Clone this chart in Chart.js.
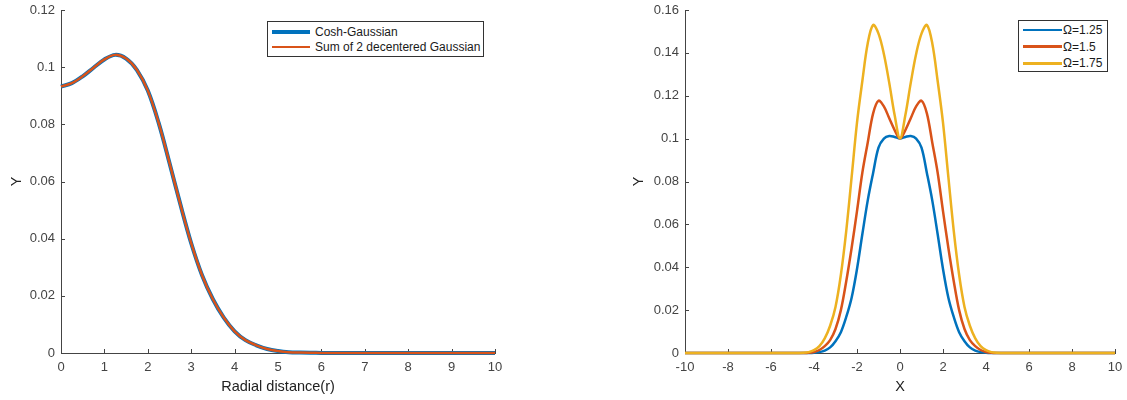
<!DOCTYPE html>
<html>
<head>
<meta charset="utf-8">
<script src="https://cdn.jsdelivr.net/npm/chart.js@4.4.1/dist/chart.umd.min.js"></script>
<style>
  body { margin: 0; background: #fff; width: 1127px; height: 400px; overflow: hidden; position: relative;
         font-family: "Liberation Sans", Arial, sans-serif; }
  #leftWrap { position: absolute; left: 0; top: 0; }
  #rightWrap { position: absolute; left: 560px; top: 0; }
  .legend { position: absolute; background: #fff; border: 1px solid #333; box-sizing: border-box; }
  .row { position: absolute; left: 0; right: 0; height: 16px; }
  .sw { position: absolute; }
  .lbl { position: absolute; top: 0; font-size: 12px; line-height: 16px; color: #1a1a1a; white-space: nowrap; }
</style>
</head>
<body>
<div id="leftWrap"><canvas id="left" width="560" height="400"></canvas></div>
<div id="rightWrap"><canvas id="right" width="567" height="400"></canvas></div>
<div class="legend" id="legLeft" style="left:267px;top:21px;width:217px;height:36px"></div>
<div class="legend" id="legRight" style="left:1018px;top:20px;width:90px;height:52px"></div>
<script>
// left panel: radial profile
const radial = [0, 0.25, 0.5, 0.75, 1, 1.25, 1.5, 1.75, 2, 2.25, 2.5, 2.75, 3, 3.25, 3.5, 3.75,
  4, 4.25, 4.5, 4.75, 5, 5.25, 5.5, 5.75, 6, 7, 8, 9, 10];
const coshGaussian = [0.0932, 0.0944, 0.0968, 0.0998, 0.1027, 0.1043, 0.1030, 0.0990, 0.0918, 0.0805,
  0.0665, 0.0520, 0.0384, 0.0272, 0.0188, 0.0124, 0.0076, 0.0045, 0.0027, 0.0014, 0.0007, 0.0003,
  0.00015, 0.00007, 0.00003, 0, 0, 0, 0];
const sumTwoGaussian = [0.0932, 0.0944, 0.0968, 0.0998, 0.1027, 0.1043, 0.1030, 0.0990, 0.0918, 0.0805,
  0.0665, 0.0520, 0.0384, 0.0272, 0.0188, 0.0124, 0.0076, 0.0045, 0.0027, 0.0014, 0.0007, 0.0003,
  0.00015, 0.00007, 0.00003, 0, 0, 0, 0];
const leftNames = ["Cosh-Gaussian", "Sum of 2 decentered Gaussian"];
const leftXTicks = [0, 1, 2, 3, 4, 5, 6, 7, 8, 9, 10];
const leftXLabels = ["0", "1", "2", "3", "4", "5", "6", "7", "8", "9", "10"];
const leftYTicks = [0, 0.02, 0.04, 0.06, 0.08, 0.1, 0.12];
const leftYLabels = ["0", "0.02", "0.04", "0.06", "0.08", "0.1", "0.12"];

// right panel: profiles for three omegas
const xPos = [-10, -8, -6, -5, -4.5, -4.25, -4, -3.75, -3.5, -3.25, -3, -2.75, -2.5, -2.25, -2, -1.75,
  -1.5, -1.25, -1, -0.75, -0.5, -0.25, 0, 0.25, 0.5, 0.75, 1, 1.25, 1.5, 1.75, 2, 2.25, 2.5, 2.75,
  3, 3.25, 3.5, 3.75, 4, 4.25, 4.5, 5, 6, 8, 10];
const omega125 = [0, 0, 0, 0, 0, 0, 0.0001, 0.0004, 0.0011, 0.0026, 0.0055, 0.0097, 0.0168, 0.0258,
  0.0392, 0.0555, 0.0712, 0.0840, 0.0958, 0.1000, 0.1012, 0.1008,
  0.1001,
  0.1008, 0.1012, 0.1000, 0.0958, 0.0840, 0.0712, 0.0555, 0.0392, 0.0258, 0.0168, 0.0097, 0.0055,
  0.0026, 0.0011, 0.0004, 0.0001, 0, 0, 0, 0, 0, 0];
const omega15 = [0, 0, 0, 0, 0, 0.0001, 0.0005, 0.0014, 0.0032, 0.0060, 0.0112, 0.0200, 0.0335, 0.0490,
  0.0662, 0.0842, 0.0982, 0.1118, 0.1177, 0.1150, 0.1095, 0.1040,
  0.1001,
  0.1040, 0.1095, 0.1150, 0.1177, 0.1118, 0.0982, 0.0842, 0.0662, 0.0490, 0.0335, 0.0200, 0.0112,
  0.0060, 0.0032, 0.0014, 0.0005, 0.0001, 0, 0, 0, 0, 0];
const omega175 = [0, 0, 0, 0, 0.0001, 0.0004, 0.0013, 0.0032, 0.0068, 0.0127, 0.0215, 0.0365, 0.0570,
  0.0820, 0.1075, 0.1270, 0.1445, 0.1530, 0.1490, 0.1395, 0.1260, 0.1110,
  0.1001,
  0.1110, 0.1260, 0.1395, 0.1490, 0.1530, 0.1445, 0.1270, 0.1075, 0.0820, 0.0570, 0.0365, 0.0215,
  0.0127, 0.0068, 0.0032, 0.0013, 0.0004, 0.0001, 0, 0, 0, 0];
const rightNames = ["Ω=1.25", "Ω=1.5", "Ω=1.75"];
const rightXTicks = [-10, -8, -6, -4, -2, 0, 2, 4, 6, 8, 10];
const rightXLabels = ["-10", "-8", "-6", "-4", "-2", "0", "2", "4", "6", "8", "10"];
const rightYTicks = [0, 0.02, 0.04, 0.06, 0.08, 0.1, 0.12, 0.14, 0.16];
const rightYLabels = ["0", "0.02", "0.04", "0.06", "0.08", "0.1", "0.12", "0.14", "0.16"];

const BLUE = "#0072BD", ORANGE = "#D95319", YELLOW = "#EDB120";
const AXIS = "#444444";
const FONT = "'Liberation Sans', Arial, sans-serif";

const inwardTicks = {
  id: "inwardTicks",
  beforeDatasetsDraw(chart) {
    const { ctx, chartArea: a, scales: { x, y } } = chart;
    ctx.save();
    ctx.strokeStyle = AXIS;
    ctx.lineWidth = 1;
    ctx.beginPath();
    x.ticks.forEach(t => {
      const px = Math.round(x.getPixelForValue(t.value)) + 0.5;
      ctx.moveTo(px, a.bottom);
      ctx.lineTo(px, a.bottom - 4);
    });
    y.ticks.forEach(t => {
      const py = Math.round(y.getPixelForValue(t.value)) + 0.5;
      ctx.moveTo(a.left, py);
      ctx.lineTo(a.left + 4, py);
    });
    ctx.stroke();
    ctx.restore();
  }
};

function pts(xs, ys) {
  return xs.map((x, i) => ({ x: x, y: ys[i] }));
}

function axis(min, max, ticks, labels, title, fitFn) {
  return {
    type: "linear",
    min: min,
    max: max,
    grid: { display: false, drawTicks: false },
    border: { display: true, color: AXIS, width: 1 },
    afterBuildTicks: s => { s.ticks = ticks.map(v => ({ value: v })); },
    afterFit: fitFn,
    ticks: {
      color: AXIS,
      font: { family: FONT, size: 13 },
      maxRotation: 0,
      autoSkip: false,
      padding: 7,
      callback: (v, i) => labels[i]
    },
    title: {
      display: true,
      text: title,
      color: "#222",
      font: { family: FONT, size: 14.5 },
      padding: { top: 4, bottom: 4 }
    }
  };
}

function makeChart(id, datasets, xs, ys, padding, yWidth) {
  const xAxis = axis(xs.min, xs.max, xs.ticks, xs.labels, xs.title, s => {
    s.height = 47; s.paddingLeft = 0; s.paddingRight = 0;
  });
  const yAxis = axis(ys.min, ys.max, ys.ticks, ys.labels, ys.title, s => {
    s.width = yWidth; s.paddingTop = 0; s.paddingBottom = 0;
  });
  yAxis.ticks.padding = 6;
  return new Chart(document.getElementById(id), {
    type: "line",
    data: { datasets: datasets },
    options: {
      responsive: false,
      animation: false,
      layout: { padding: padding },
      elements: { point: { radius: 0 }, line: { tension: 0.35 } },
      plugins: { legend: { display: false }, tooltip: { enabled: false } },
      scales: { x: xAxis, y: yAxis }
    },
    plugins: [inwardTicks]
  });
}

makeChart("left", [
  { label: leftNames[0], data: pts(radial, coshGaussian), borderColor: BLUE, borderWidth: 4, order: 1, clip: false },
  { label: leftNames[1], data: pts(radial, sumTwoGaussian), borderColor: ORANGE, borderWidth: 2.5, order: 0, clip: false }
], { min: 0, max: 10, ticks: leftXTicks, labels: leftXLabels, title: "Radial distance(r)" },
   { min: 0, max: 0.12, ticks: leftYTicks, labels: leftYLabels, title: "Y" },
   { left: 4, top: 10, right: 65, bottom: 0 }, 57);

makeChart("right", [
  { label: rightNames[0], data: pts(xPos, omega125), borderColor: BLUE, borderWidth: 2.5, order: 2, clip: false },
  { label: rightNames[1], data: pts(xPos, omega15), borderColor: ORANGE, borderWidth: 2.5, order: 1, clip: false },
  { label: rightNames[2], data: pts(xPos, omega175), borderColor: YELLOW, borderWidth: 2.5, order: 0, clip: false }
], { min: -10, max: 10, ticks: rightXTicks, labels: rightXLabels, title: "X" },
   { min: 0, max: 0.16, ticks: rightYTicks, labels: rightYLabels, title: "Y" },
   { left: 66, top: 10, right: 12, bottom: 0 }, 59);

// legends (HTML so the text stays real text)
function legend(elId, names, colors, widths, tops, swLeft, swWidth, textLeft) {
  const box = document.getElementById(elId);
  names.forEach((n, i) => {
    const row = document.createElement("div");
    row.className = "row";
    row.style.top = tops[i] + "px";
    const sw = document.createElement("div");
    sw.className = "sw";
    sw.style.left = swLeft + "px";
    sw.style.width = swWidth + "px";
    sw.style.height = widths[i] + "px";
    sw.style.top = (8 - widths[i] / 2) + "px";
    sw.style.background = colors[i];
    const t = document.createElement("span");
    t.className = "lbl";
    t.style.left = textLeft + "px";
    t.textContent = n;
    row.appendChild(sw);
    row.appendChild(t);
    box.appendChild(row);
  });
}
legend("legLeft", leftNames, [BLUE, ORANGE], [4, 2.5], [2, 17], 4, 38, 47);
legend("legRight", rightNames, [BLUE, ORANGE, YELLOW], [2.5, 2.5, 2.5], [1, 17.7, 34.3], 4, 39, 44);
</script>
</body>
</html>
